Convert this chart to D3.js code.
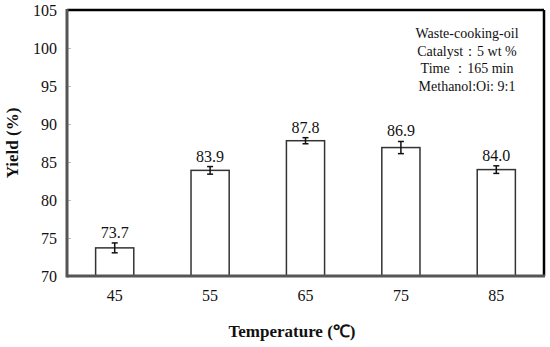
<!DOCTYPE html>
<html>
<head>
<meta charset="utf-8">
<script src="https://cdn.jsdelivr.net/npm/d3@7"></script>
<style>
  body { margin: 0; background: #fff; }
</style>
</head>
<body>
<svg width="550" height="347"></svg>
<script>
// chart data
const temps = ["45", "55", "65", "75", "85"];
const yields = [73.7, 83.9, 87.8, 86.9, 84.0];
const errors = [0.65, 0.5, 0.4, 0.8, 0.5];
const yTicks = [70, 75, 80, 85, 90, 95, 100, 105];
const notes = ["Waste-cooking-oil", "Catalyst\uFF1A5 wt %", "Time \uFF1A165 min", "Methanol:Oi: 9:1"];

const margin = {left: 67, top: 10, right: 6, bottom: 71};
const W = 550, H = 347;
const svg = d3.select("svg")
  .style("font-family", "'Liberation Serif', 'Times New Roman', serif");

const x = d3.scaleBand().domain(temps).range([margin.left, W - margin.right]).paddingInner(0.6).paddingOuter(0.3);
const y = d3.scaleLinear().domain([70, 105]).range([H - margin.bottom, margin.top]);

// y axis ticks (inner, faint)
const yAxis = svg.append("g")
  .attr("transform", `translate(${margin.left},0)`)
  .call(d3.axisRight(y).tickValues(yTicks).tickSize(4).tickFormat(""));
yAxis.select(".domain").remove();
yAxis.selectAll("line").attr("stroke", "#bbb");

svg.append("g").selectAll("text")
  .data(yTicks)
  .enter().append("text")
  .attr("x", margin.left - 10)
  .attr("y", d => y(d))
  .attr("dy", "0.35em")
  .attr("text-anchor", "end")
  .attr("font-size", 16)
  .attr("fill", "#111")
  .text(d => d);

// bars
svg.append("g").selectAll("rect")
  .data(yields)
  .enter().append("rect")
  .attr("x", (d, i) => x(temps[i]))
  .attr("width", x.bandwidth())
  .attr("y", d => y(d))
  .attr("height", d => y(70) - y(d))
  .attr("fill", "#fff")
  .attr("stroke", "#333")
  .attr("stroke-width", 1.5);

// error bars
const eb = svg.append("g").attr("stroke", "#111").attr("stroke-width", 1.5);
yields.forEach((v, i) => {
  const cx = x(temps[i]) + x.bandwidth() / 2;
  eb.append("line").attr("x1", cx).attr("x2", cx).attr("y1", y(v + errors[i])).attr("y2", y(v - errors[i]));
  eb.append("line").attr("x1", cx - 3).attr("x2", cx + 3).attr("y1", y(v + errors[i])).attr("y2", y(v + errors[i]));
  eb.append("line").attr("x1", cx - 3).attr("x2", cx + 3).attr("y1", y(v - errors[i])).attr("y2", y(v - errors[i]));
});

// value labels
svg.append("g").selectAll("text")
  .data(yields)
  .enter().append("text")
  .attr("x", (d, i) => x(temps[i]) + x.bandwidth() / 2)
  .attr("y", (d, i) => y(d + errors[i]) - 5)
  .attr("text-anchor", "middle")
  .attr("font-size", 16)
  .attr("fill", "#111")
  .text(d => d.toFixed(1));

// x tick labels
svg.append("g").selectAll("text")
  .data(temps)
  .enter().append("text")
  .attr("x", d => x(d) + x.bandwidth() / 2)
  .attr("y", H - margin.bottom + 25)
  .attr("text-anchor", "middle")
  .attr("font-size", 16)
  .attr("fill", "#111")
  .text(d => d);

// frame: top/right black, left/bottom gray and thick
const x0 = margin.left, x1 = W - margin.right, y0 = margin.top, y1 = H - margin.bottom;
svg.append("line").attr("x1", x0).attr("x2", x1).attr("y1", y0).attr("y2", y0).attr("stroke", "#000").attr("stroke-width", 2.5);
svg.append("line").attr("x1", x1).attr("x2", x1).attr("y1", y0).attr("y2", y1).attr("stroke", "#000").attr("stroke-width", 2.5);
svg.append("line").attr("x1", x0).attr("x2", x0).attr("y1", y0 - 1).attr("y2", y1 + 1.5).attr("stroke", "#555").attr("stroke-width", 3);
svg.append("line").attr("x1", x0).attr("x2", x1 + 1).attr("y1", y1).attr("y2", y1).attr("stroke", "#555").attr("stroke-width", 3);

// notes box text
svg.append("g").selectAll("text")
  .data(notes)
  .enter().append("text")
  .attr("x", 467)
  .attr("y", (d, i) => 38 + i * 17.5)
  .attr("text-anchor", "middle")
  .attr("font-size", 14)
  .attr("fill", "#111")
  .text(d => d);

// axis titles
svg.append("text")
  .attr("transform", `translate(18,${(y0 + y1) / 2}) rotate(-90)`)
  .attr("text-anchor", "middle")
  .attr("font-size", 17)
  .attr("font-weight", "bold")
  .attr("fill", "#111")
  .text("Yield (%)");

svg.append("text")
  .attr("x", 292)
  .attr("y", 337)
  .attr("text-anchor", "middle")
  .attr("font-size", 17)
  .attr("font-weight", "bold")
  .attr("fill", "#111")
  .text("Temperature (\u2103)");
</script>
</body>
</html>
